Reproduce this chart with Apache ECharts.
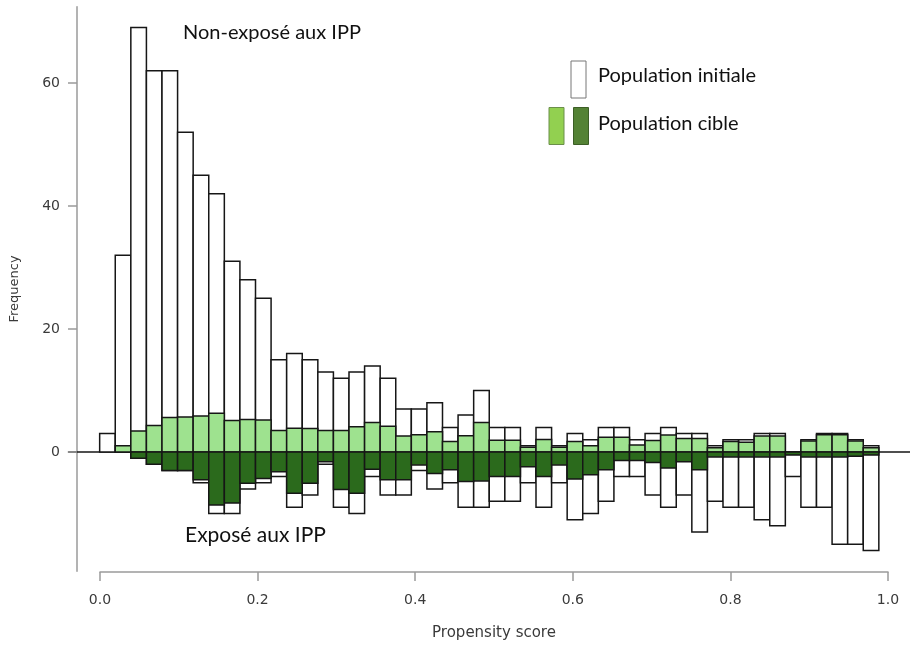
<!DOCTYPE html>
<html><head><meta charset="utf-8">
<script src="https://cdn.jsdelivr.net/npm/echarts@6/dist/echarts.min.js"></script>
<style>html,body{margin:0;padding:0;background:#fff}#chart{width:910px;height:645px}</style>
</head><body><div id="chart"></div>
<script>
const binWidth = 0.02;
const binStarts = [0.00,0.02,0.04,0.06,0.08,0.10,0.12,0.14,0.16,0.18,
                   0.20,0.22,0.24,0.26,0.28,0.30,0.32,0.34,0.36,0.38,
                   0.40,0.42,0.44,0.46,0.48,0.50,0.52,0.54,0.56,0.58,
                   0.60,0.62,0.64,0.66,0.68,0.70,0.72,0.74,0.76,0.78,
                   0.80,0.82,0.84,0.86,0.88,0.90,0.92,0.94,0.96,0.98];
const xTicks = [0, 0.2, 0.4, 0.6, 0.8, 1.0];
const yTicks = [0, 20, 40, 60];

// Non-exposed (upper half)
const unexposedInitial = [3,32,69,62,62,52,45,42,31,28,
                          25,15,16,15,13,12,13,14,12,7,
                          7,8,4,6,10,4,4,1,4,1,
                          3,2,4,4,2,3,4,3,3,1,
                          2,2,3,3,0,2,3,3,2,1];
const unexposedTarget = [0,1.0,3.4,4.3,5.6,5.7,5.85,6.3,5.1,5.3,
                         5.2,3.5,3.85,3.8,3.5,3.5,4.1,4.8,4.2,2.6,
                         2.8,3.3,1.7,2.65,4.8,1.9,1.9,0.75,2.05,0.75,
                         1.7,1.0,2.4,2.4,1.15,1.85,2.75,2.2,2.2,0.7,
                         1.7,1.6,2.6,2.6,0,1.8,2.8,2.8,1.8,0.7];
// Exposed (lower half, negative)
const exposedInitial = [0,0,-1,-2,-3,-3,-5,-10,-10,-6,
                        -5,-4,-9,-7,-2,-9,-10,-4,-7,-7,
                        -3,-6,-5,-9,-9,-8,-8,-5,-9,-5,
                        -11,-10,-8,-4,-4,-7,-9,-7,-13,-8,
                        -9,-9,-11,-12,-4,-9,-9,-15,-15,-16];
const exposedTarget = [0,0,-1.0,-2.0,-3.0,-3.0,-4.5,-8.6,-8.3,-5.1,
                       -4.3,-3.2,-6.7,-5.1,-1.6,-6.1,-6.7,-2.8,-4.5,-4.5,
                       -2.1,-3.5,-2.9,-4.8,-4.7,-4.0,-4.0,-2.4,-4.0,-2.1,
                       -4.4,-3.7,-2.9,-1.4,-1.4,-1.7,-2.6,-1.6,-2.9,-0.8,
                       -0.8,-0.8,-0.8,-0.8,-0.5,-0.8,-0.8,-0.8,-0.7,-0.5];

const LIGHT = '#9ee28f', DARK = '#2b6a1c';
const AXIS_GRAY = '#9a9a9a';
const TXT = '#3a3a3a';

function barSeries(name, values, fill, z) {
  return {
    type: 'custom', name: name, xAxisIndex: 0, yAxisIndex: 0, z: z,
    silent: true, animation: false,
    encode: { x: [0, 1], y: 2 },
    data: binStarts.map((s, i) => [s, s + binWidth, values[i]]),
    renderItem: function (params, api) {
      const v = api.value(2);
      if (!v) return { type: 'group', children: [] };
      const a = api.coord([api.value(0), 0]);
      const b = api.coord([api.value(1), v]);
      return {
        type: 'rect',
        shape: { x: a[0], y: Math.min(a[1], b[1]), width: b[0] - a[0], height: Math.abs(b[1] - a[1]) },
        style: { fill: fill, stroke: '#161616', lineWidth: 1.5 }
      };
    }
  };
}

const chart = echarts.init(document.getElementById('chart'), null, { renderer: 'canvas' });
chart.setOption({
  backgroundColor: '#ffffff',
  animation: false,
  grid: [
    { left: 68.5, top: 6.7, width: 851.2, height: 564.6 },
    { left: 100, top: 571, width: 788, height: 1 }
  ],
  xAxis: [
    { type: 'value', gridIndex: 0, min: -0.04, max: 1.04,
      axisLine: { show: true, onZero: true, lineStyle: { color: '#161616', width: 1.5 } },
      axisTick: { show: false }, axisLabel: { show: false }, splitLine: { show: false } },
    { type: 'value', gridIndex: 1, min: 0, max: 1, interval: 0.2, position: 'bottom',
      axisLine: { show: true, onZero: false, lineStyle: { color: AXIS_GRAY, width: 1.5 } },
      axisTick: { show: true, length: 9, lineStyle: { color: AXIS_GRAY, width: 1.5 } },
      axisLabel: { color: TXT, fontFamily: 'DejaVu Sans', fontSize: 14, margin: 21,
                   formatter: v => v.toFixed(1) },
      splitLine: { show: false },
      name: 'Propensity score', nameLocation: 'middle', nameGap: 54,
      nameTextStyle: { color: TXT, fontFamily: 'DejaVu Sans', fontSize: 15 } }
  ],
  yAxis: [
    { type: 'value', gridIndex: 0, min: -19.4, max: 72.4, offset: -8.5,
      axisLine: { show: true, onZero: false, lineStyle: { color: AXIS_GRAY, width: 1.5 } },
      axisTick: { show: true, length: 9, customValues: yTicks, lineStyle: { color: AXIS_GRAY, width: 1.5 } },
      axisLabel: { show: true, customValues: yTicks, color: TXT, fontFamily: 'DejaVu Sans', fontSize: 14, margin: 17 },
      splitLine: { show: false },
      name: 'Frequency', nameLocation: 'middle', nameGap: 56, nameRotate: 90,
      nameTextStyle: { color: TXT, fontFamily: 'DejaVu Sans', fontSize: 13 } },
    { type: 'value', gridIndex: 1, min: 0, max: 1, show: false }
  ],
  series: [
    barSeries('Non-exposé, population initiale', unexposedInitial, '#ffffff', 2),
    barSeries('Exposé, population initiale', exposedInitial, '#ffffff', 2),
    barSeries('Non-exposé, population cible', unexposedTarget, LIGHT, 3),
    barSeries('Exposé, population cible', exposedTarget, DARK, 3)
  ],
  graphic: [
    { type: 'text', left: 183, top: 23, style: { text: 'Non-exposé aux IPP', font: '20px Lato', fill: '#111' } },
    { type: 'text', left: 185, top: 525, style: { text: 'Exposé aux IPP', font: '21px Lato', fill: '#111' } },
    { type: 'rect', shape: { x: 571, y: 61, width: 15, height: 37 }, style: { fill: '#fff', stroke: '#777', lineWidth: 1 } },
    { type: 'text', left: 598, top: 66, style: { text: 'Population initiale', font: '20px Lato', fill: '#111' } },
    { type: 'rect', shape: { x: 549, y: 107.5, width: 15, height: 37 }, style: { fill: '#92d050', stroke: '#6b8f4a', lineWidth: 1 } },
    { type: 'rect', shape: { x: 573.5, y: 107.5, width: 15, height: 37 }, style: { fill: '#548235', stroke: '#3c5e26', lineWidth: 1 } },
    { type: 'text', left: 598, top: 114, style: { text: 'Population cible', font: '20px Lato', fill: '#111' } }
  ]
});
</script>
</body></html>
